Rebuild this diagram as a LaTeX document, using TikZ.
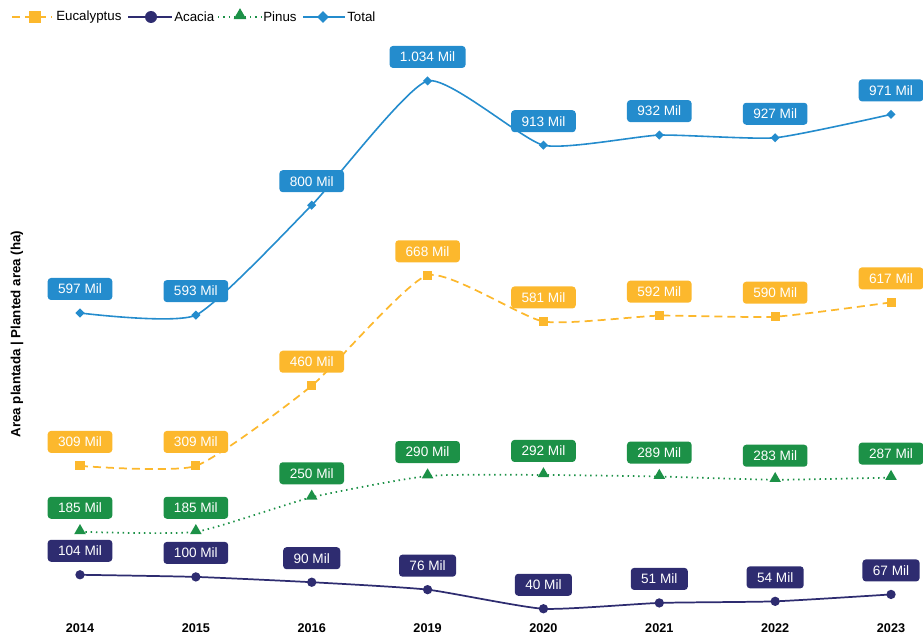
\documentclass[tikz,border=0pt]{standalone}
\usepackage{fontspec}
\setmainfont{Liberation Sans}
\usetikzlibrary{shapes.geometric}
\definecolor{cEuc}{RGB}{252,184,45}
\definecolor{cAca}{RGB}{46,44,112}
\definecolor{cPin}{RGB}{28,145,71}
\definecolor{cTot}{RGB}{36,140,205}
\begin{document}
\begin{tikzpicture}[x=0.75pt,y=-0.75pt,
  lab/.style={rounded corners=2.5pt, fill=#1, text=white, font=\fontsize{10.2}{12}\selectfont, minimum height=16.5pt, inner xsep=7.8pt, inner ysep=0pt, yshift=18pt},
  yr/.style={font=\bfseries\fontsize{9.5}{11}\selectfont},
  leg/.style={font=\fontsize{10}{12}\selectfont, anchor=west, inner sep=0pt},
  mdia/.style={diamond, fill=cTot, inner sep=0pt, minimum size=7pt},
  msq/.style={rectangle, fill=cEuc, inner sep=0pt, minimum size=6.8pt},
  mcir/.style={circle, fill=cAca, inner sep=0pt, minimum size=7pt},
  mtri/.style={regular polygon, regular polygon sides=3, fill=cPin, inner sep=0pt, minimum size=10pt},
  ltot/.style={draw=cTot, line width=1.2pt},
  leuc/.style={draw=cEuc, line width=1.3pt, dash pattern=on 6pt off 3.75pt},
  laca/.style={draw=cAca, line width=1.3pt},
  lpin/.style={draw=cPin, line width=1.3pt, dash pattern=on 1.1pt off 2.9pt},
]
\useasboundingbox (0,0) rectangle (923,635);

% coordinates
\foreach \v [count=\i] in {597,593,800,1034,913,932,927,971}
  \coordinate (t\i) at ({80+115.86*(\i-1)},{630-0.531*\v});
\foreach \v [count=\i] in {309,309,460,668,581,592,590,617}
  \coordinate (e\i) at ({80+115.86*(\i-1)},{630-0.531*\v});
\foreach \v [count=\i] in {185,185,250,290,292,289,283,287}
  \coordinate (p\i) at ({80+115.86*(\i-1)},{630-0.531*\v});
\foreach \v [count=\i] in {104,100,90,76,40,51,54,67}
  \coordinate (a\i) at ({80+115.86*(\i-1)},{630-0.531*\v});

% lines
\draw[ltot] plot[smooth, tension=0.32] coordinates {(t1)(t2)(t3)(t4)(t5)(t6)(t7)(t8)};
\draw[leuc] plot[smooth, tension=0.32] coordinates {(e1)(e2)(e3)(e4)(e5)(e6)(e7)(e8)};
\draw[lpin] plot[smooth, tension=0.32] coordinates {(p1)(p2)(p3)(p4)(p5)(p6)(p7)(p8)};
\draw[laca] plot[smooth, tension=0.32] coordinates {(a1)(a2)(a3)(a4)(a5)(a6)(a7)(a8)};

% markers and labels
\foreach \i/\t in {1/597 Mil,2/593 Mil,3/800 Mil,4/1.034 Mil,5/913 Mil,6/932 Mil,7/927 Mil,8/971 Mil}{
  \node[mdia] (mt\i) at (t\i) {};
  \node[lab=cTot] (lt\i) at (t\i) {\t};
}
\foreach \i/\t in {1/309 Mil,2/309 Mil,3/460 Mil,4/668 Mil,5/581 Mil,6/592 Mil,7/590 Mil,8/617 Mil}{
  \node[msq] (me\i) at (e\i) {};
  \node[lab=cEuc] (le\i) at (e\i) {\t};
}
\foreach \i/\t in {1/185 Mil,2/185 Mil,3/250 Mil,4/290 Mil,5/292 Mil,6/289 Mil,7/283 Mil,8/287 Mil}{
  \node[mtri] (mp\i) at ([yshift=0.8pt]p\i) {};
  \node[lab=cPin] (lp\i) at (p\i) {\t};
}
\foreach \i/\t in {1/104 Mil,2/100 Mil,3/90 Mil,4/76 Mil,5/40 Mil,6/51 Mil,7/54 Mil,8/67 Mil}{
  \node[mcir] (ma\i) at (a\i) {};
  \node[lab=cAca] (la\i) at (a\i) {\t};
}

% years
\foreach \y [count=\i] in {2014,2015,2016,2019,2020,2021,2022,2023}
  \node[yr] (y\i) at ({80+115.86*(\i-1)},628) {\y};

% axis label
\node[rotate=90, font=\bfseries\fontsize{10}{12}\selectfont] (ax) at (17,334) {Area plantada | Planted area (ha)};

% legend
\coordinate (l1a) at (12,17); \coordinate (l1b) at (52,17);
\draw[leuc] (l1a) -- (l1b);
\node[msq, minimum size=9pt] (lm1) at (35,17) {};
\node[leg] (lt1) at (56,17) {Eucalyptus};
\coordinate (l2a) at (128,17); \coordinate (l2b) at (172,17);
\draw[laca] (l2a) -- (l2b);
\node[mcir, minimum size=9pt] (lm2) at (151,17) {};
\node[leg] (lt2) at (174,17) {Acacia};
\coordinate (l3a) at (218,17); \coordinate (l3b) at (261,17);
\draw[lpin] (l3a) -- (l3b);
\node[mtri, minimum size=11pt] (lm3) at (240,15.5) {};
\node[leg] (lt3) at (263,17) {Pinus};
\coordinate (l4a) at (303,17); \coordinate (l4b) at (345,17);
\draw[ltot] (l4a) -- (l4b);
\node[mdia, minimum size=9pt] (lm4) at (323,17) {};
\node[leg] (lt4) at (347,17) {Total};
\end{tikzpicture}
\end{document}
